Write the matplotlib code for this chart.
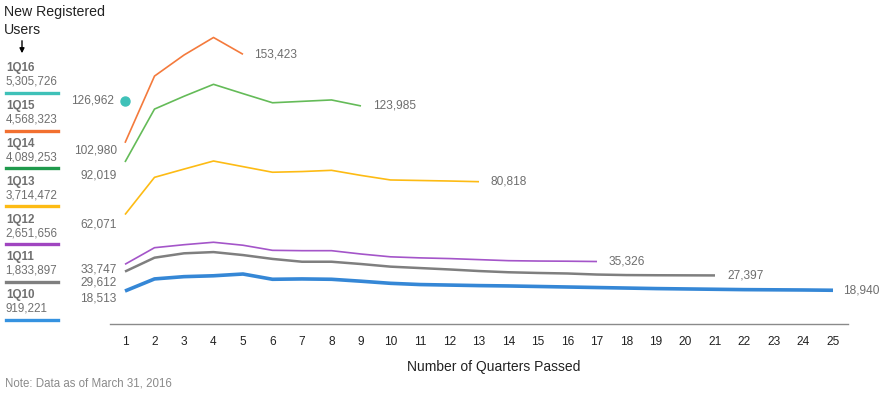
import matplotlib
matplotlib.use("Agg")
import matplotlib.pyplot as plt
from matplotlib.lines import Line2D

plt.rcParams["font.family"] = ["Liberation Sans", "DejaVu Sans"]

# cohorts (newest first, as in the side legend)
COHORTS = ["1Q16", "1Q15", "1Q14", "1Q13", "1Q12", "1Q11", "1Q10"]
TOTALS = ["5,305,726", "4,568,323", "4,089,253", "3,714,472", "2,651,656", "1,833,897", "919,221"]

# new registered users per quarter passed, per cohort
Q16 = [126962]
Q15 = [102980, 141000, 153000, 163000, 153423]
Q14 = [92019, 122200, 129500, 136300, 131000, 125800, 126600, 127400, 123985]
Q13 = [62071, 83300, 88000, 92600, 89400, 86200, 86600, 87300, 84400, 81800, 81500, 81200, 80818]
Q12 = [33747, 43200, 44900, 46300, 44600, 41700, 41500, 41500, 39600, 38000,
       37400, 37000, 36400, 35800, 35600, 35500, 35326]
Q11 = [29612, 37500, 40000, 40700, 39000, 36800, 35200, 35200, 33900, 32400,
       31600, 30800, 29900, 29200, 28800, 28500, 27900, 27600, 27500, 27450, 27397]
Q10 = [18513, 25400, 26700, 27200, 28200, 25200, 25400, 25200, 24100, 22900,
       22200, 21900, 21600, 21400, 21100, 20800, 20500, 20200, 19900, 19700,
       19500, 19300, 19200, 19100, 18940]
SERIES = [Q16, Q15, Q14, Q13, Q12, Q11, Q10]
QUARTERS = list(range(1, 26))

LINE_COLORS = ["#3fc1b8", "#f47a3c", "#64bb58", "#fdbb14", "#a455c9", "#7f7f7f", "#3587d6"]
LEG_COLORS = ["#3fc1b8", "#f27030", "#1f9a4c", "#fdbb14", "#a045c0", "#7f7f7f", "#3592e0"]
LINE_W = [1.2, 1.2, 1.2, 1.2, 1.2, 1.8, 2.6]
# label nudges in pixels (start label dy, end label dx)
START_DY = [0, -8, -13, -10, -5, -11, -7]
END_DX = [15, 11, 12, 12, 12, 12, 10]

W, H = 890, 398
fig = plt.figure(figsize=(W / 100, H / 100), dpi=100)


def fx(px):
    return px / W


def fy(py):
    return 1 - py / H


# main axes: baseline at y=323.5px, x axis from 110 to 848 px
top_px, base_px = 10, 323.5
ax = fig.add_axes([fx(110), fy(base_px), fx(848 - 110), (base_px - top_px) / H])
ax.set_xlim(1 - 15 / 29.5, 25 + 15 / 29.5)
ax.set_ylim(0, (base_px - top_px) * 569.9)
for s in ["top", "right", "left"]:
    ax.spines[s].set_visible(False)
ax.spines["bottom"].set_color("#8a8a8a")
ax.spines["bottom"].set_linewidth(1.0)
ax.set_yticks([])
ax.set_xticks(QUARTERS)
ax.tick_params(axis="x", length=0, pad=9, labelsize=8.6, labelcolor="#222222")

for vals, c, lw, dy, dx in zip(SERIES, LINE_COLORS, LINE_W, START_DY, END_DX):
    xs = QUARTERS[:len(vals)]
    if len(vals) == 1:
        ax.plot(xs, vals, "o", color=c, ms=6.5, clip_on=False)
    else:
        ax.plot(xs, vals, color=c, lw=lw, solid_capstyle="butt", clip_on=False)
        ax.annotate(f"{vals[-1]:,}", (xs[-1], vals[-1]), xytext=(dx * 0.72, 0),
                    textcoords="offset points", ha="left", va="center",
                    fontsize=8.6, color="#6e6e6e")
    ax.annotate(f"{vals[0]:,}", (xs[0], vals[0]), xytext=(-8 if len(vals) == 1 else -6, dy * 0.72),
                textcoords="offset points", ha="right", va="center",
                fontsize=8.6, color="#6e6e6e")

fig.text(fx(494), fy(367), "Number of Quarters Passed", ha="center", va="center",
         fontsize=10, color="#222222")
fig.text(fx(5), fy(383), "Note: Data as of March 31, 2016", ha="left", va="center",
         fontsize=8.3, color="#8a8a8a")

# side legend
fig.text(fx(4), fy(12), "New Registered", ha="left", va="center", fontsize=10.2, color="#222222")
fig.text(fx(4), fy(30), "Users", ha="left", va="center", fontsize=10.2, color="#222222")
fig.add_artist(matplotlib.patches.FancyArrowPatch((fx(22), fy(38)), (fx(22), fy(56)),
                                                  transform=fig.transFigure, arrowstyle="-|>",
                                                  mutation_scale=7, color="black", lw=1))
for i, (name, tot, c) in enumerate(zip(COHORTS, TOTALS, LEG_COLORS)):
    y0 = 68.3 + i * 37.8
    fig.text(fx(6), fy(y0), name, ha="left", va="center", fontsize=8.4,
             fontweight="bold", color="#707070")
    fig.text(fx(5.5), fy(y0 + 13.5), tot, ha="left", va="center", fontsize=8.4, color="#707070")
    fig.add_artist(Line2D([fx(5.5), fx(57.5)], [fy(y0 + 24.5)] * 2, color=c, lw=2.4))

fig.savefig("out.png", dpi=100)
